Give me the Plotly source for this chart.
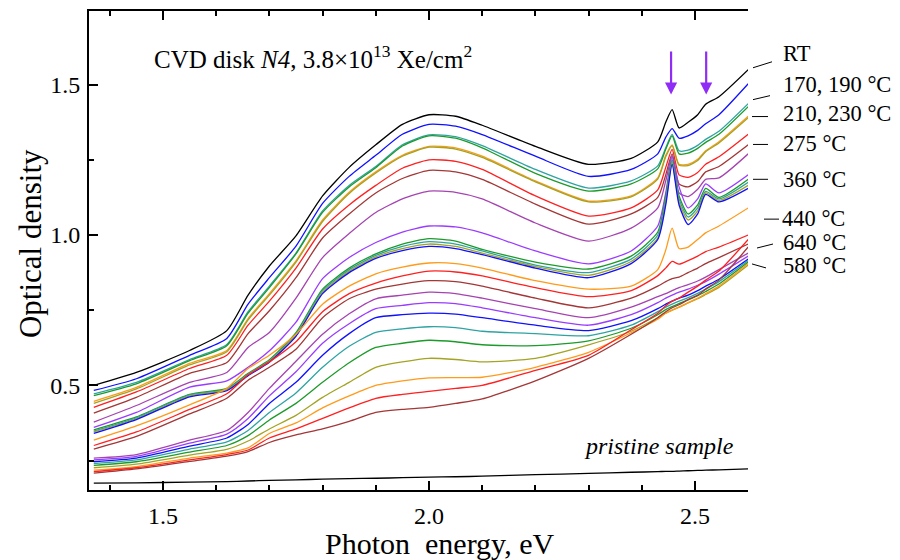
import plotly.graph_objects as go

# shared photon-energy grid (eV)
X_EV = [1.37, 1.45, 1.55, 1.62, 1.66, 1.70, 1.75, 1.80, 1.85, 1.90, 1.95, 2.00, 2.05, 2.10, 2.20, 2.30,
        2.38, 2.43, 2.445, 2.457, 2.47, 2.487, 2.505, 2.52, 2.545, 2.60]

# optical density curves (top to bottom at 2.0 eV)
C01_black = [0.500, 0.543, 0.616, 0.682, 0.800, 0.897, 0.997, 1.130, 1.225, 1.300, 1.368, 1.400, 1.395, 1.365, 1.295, 1.235, 1.255, 1.310, 1.375, 1.417, 1.356, 1.375, 1.400, 1.435, 1.460, 1.550]
C02_blue = [0.483, 0.522, 0.600, 0.656, 0.770, 0.858, 0.963, 1.105, 1.195, 1.265, 1.335, 1.368, 1.362, 1.334, 1.262, 1.195, 1.218, 1.270, 1.325, 1.354, 1.322, 1.330, 1.348, 1.370, 1.400, 1.503]
C03_teal = [0.472, 0.510, 0.586, 0.636, 0.745, 0.830, 0.940, 1.080, 1.165, 1.228, 1.300, 1.333, 1.327, 1.297, 1.218, 1.156, 1.180, 1.230, 1.290, 1.335, 1.280, 1.282, 1.298, 1.318, 1.345, 1.437]
C04_green = [0.466, 0.505, 0.582, 0.632, 0.740, 0.825, 0.937, 1.075, 1.160, 1.224, 1.296, 1.330, 1.322, 1.290, 1.205, 1.146, 1.170, 1.220, 1.285, 1.330, 1.270, 1.272, 1.288, 1.308, 1.335, 1.427]
C05_orange = [0.447, 0.493, 0.573, 0.616, 0.722, 0.805, 0.914, 1.050, 1.142, 1.210, 1.265, 1.295, 1.290, 1.262, 1.180, 1.113, 1.130, 1.190, 1.265, 1.300, 1.235, 1.235, 1.252, 1.280, 1.310, 1.395]
C06_olive = [0.440, 0.488, 0.568, 0.612, 0.718, 0.800, 0.910, 1.045, 1.138, 1.206, 1.262, 1.292, 1.286, 1.258, 1.177, 1.110, 1.127, 1.186, 1.260, 1.297, 1.232, 1.231, 1.248, 1.277, 1.306, 1.390]
C07_red = [0.427, 0.478, 0.556, 0.600, 0.700, 0.780, 0.890, 1.020, 1.100, 1.165, 1.222, 1.250, 1.245, 1.218, 1.130, 1.063, 1.090, 1.150, 1.225, 1.285, 1.200, 1.192, 1.208, 1.235, 1.260, 1.335]
C08_brown = [0.408, 0.460, 0.540, 0.576, 0.672, 0.748, 0.858, 0.990, 1.070, 1.140, 1.188, 1.215, 1.210, 1.185, 1.103, 1.036, 1.070, 1.125, 1.200, 1.270, 1.170, 1.160, 1.178, 1.210, 1.228, 1.300]
C09_purple = [0.378, 0.433, 0.510, 0.543, 0.626, 0.676, 0.790, 0.925, 1.005, 1.075, 1.120, 1.146, 1.142, 1.120, 1.040, 0.980, 1.023, 1.090, 1.180, 1.265, 1.140, 1.128, 1.152, 1.185, 1.190, 1.270]
C10_violet = [0.360, 0.410, 0.494, 0.515, 0.560, 0.615, 0.710, 0.855, 0.925, 0.975, 1.010, 1.030, 1.027, 1.007, 0.947, 0.904, 0.947, 1.030, 1.140, 1.260, 1.160, 1.090, 1.120, 1.170, 1.140, 1.200]
C11_green = [0.352, 0.395, 0.470, 0.490, 0.540, 0.585, 0.675, 0.820, 0.890, 0.937, 0.970, 0.988, 0.980, 0.952, 0.910, 0.887, 0.930, 1.010, 1.130, 1.250, 1.130, 1.070, 1.100, 1.155, 1.125, 1.185]
C12_teal = [0.348, 0.392, 0.468, 0.487, 0.537, 0.582, 0.670, 0.815, 0.885, 0.932, 0.962, 0.978, 0.970, 0.947, 0.900, 0.875, 0.920, 1.000, 1.120, 1.245, 1.120, 1.060, 1.090, 1.145, 1.120, 1.175]
C13_olive = [0.345, 0.389, 0.465, 0.485, 0.535, 0.580, 0.667, 0.810, 0.880, 0.927, 0.955, 0.970, 0.962, 0.940, 0.895, 0.866, 0.912, 0.990, 1.110, 1.240, 1.110, 1.050, 1.080, 1.140, 1.115, 1.165]
C14_blue = [0.340, 0.386, 0.462, 0.482, 0.532, 0.577, 0.663, 0.805, 0.875, 0.922, 0.948, 0.962, 0.955, 0.935, 0.890, 0.858, 0.905, 0.985, 1.100, 1.235, 1.100, 1.035, 1.070, 1.135, 1.110, 1.155]
C15_orange = [0.318, 0.365, 0.435, 0.490, 0.556, 0.600, 0.670, 0.770, 0.830, 0.871, 0.893, 0.907, 0.905, 0.890, 0.848, 0.820, 0.830, 0.885, 0.950, 1.023, 0.955, 0.960, 0.985, 1.007, 1.030, 1.090]
C16_red = [0.300, 0.345, 0.420, 0.472, 0.535, 0.578, 0.645, 0.745, 0.805, 0.840, 0.864, 0.880, 0.877, 0.864, 0.825, 0.795, 0.815, 0.865, 0.890, 0.912, 0.903, 0.915, 0.930, 0.945, 0.960, 1.000]
C17_brown = [0.288, 0.330, 0.405, 0.457, 0.517, 0.560, 0.620, 0.725, 0.788, 0.820, 0.837, 0.848, 0.845, 0.830, 0.790, 0.758, 0.790, 0.830, 0.845, 0.855, 0.860, 0.875, 0.890, 0.905, 0.925, 0.970]
C18_purple = [0.258, 0.270, 0.318, 0.350, 0.410, 0.490, 0.580, 0.670, 0.738, 0.788, 0.800, 0.810, 0.805, 0.790, 0.755, 0.725, 0.760, 0.795, 0.805, 0.815, 0.825, 0.835, 0.847, 0.860, 0.885, 0.940]
C19_violet = [0.252, 0.264, 0.308, 0.338, 0.390, 0.465, 0.545, 0.640, 0.705, 0.755, 0.766, 0.775, 0.772, 0.758, 0.725, 0.700, 0.735, 0.775, 0.790, 0.800, 0.810, 0.820, 0.833, 0.845, 0.870, 0.930]
C20_blue = [0.246, 0.258, 0.298, 0.325, 0.370, 0.440, 0.510, 0.600, 0.672, 0.725, 0.735, 0.740, 0.737, 0.725, 0.700, 0.682, 0.715, 0.755, 0.770, 0.780, 0.790, 0.800, 0.815, 0.830, 0.853, 0.920]
C21_teal = [0.240, 0.252, 0.288, 0.312, 0.350, 0.410, 0.475, 0.560, 0.630, 0.676, 0.688, 0.695, 0.692, 0.680, 0.672, 0.665, 0.700, 0.745, 0.760, 0.770, 0.780, 0.792, 0.806, 0.820, 0.845, 0.915]
C22_green = [0.234, 0.246, 0.278, 0.300, 0.333, 0.385, 0.440, 0.510, 0.575, 0.626, 0.640, 0.650, 0.645, 0.635, 0.632, 0.648, 0.690, 0.735, 0.752, 0.762, 0.772, 0.784, 0.798, 0.812, 0.837, 0.910]
C23_olive = [0.226, 0.238, 0.268, 0.287, 0.315, 0.355, 0.400, 0.460, 0.510, 0.560, 0.578, 0.590, 0.586, 0.578, 0.590, 0.635, 0.680, 0.725, 0.740, 0.750, 0.760, 0.774, 0.788, 0.802, 0.826, 0.900]
C24_orange = [0.218, 0.230, 0.258, 0.275, 0.292, 0.340, 0.375, 0.425, 0.465, 0.500, 0.515, 0.525, 0.526, 0.527, 0.560, 0.610, 0.675, 0.720, 0.740, 0.750, 0.760, 0.775, 0.790, 0.805, 0.830, 0.905]
C25_red = [0.213, 0.226, 0.252, 0.270, 0.285, 0.325, 0.355, 0.390, 0.425, 0.457, 0.470, 0.480, 0.490, 0.500, 0.550, 0.600, 0.685, 0.740, 0.765, 0.780, 0.790, 0.810, 0.830, 0.850, 0.880, 0.985]
C26_brown = [0.208, 0.222, 0.247, 0.265, 0.280, 0.310, 0.335, 0.355, 0.380, 0.410, 0.420, 0.427, 0.440, 0.455, 0.515, 0.590, 0.670, 0.725, 0.745, 0.758, 0.768, 0.785, 0.800, 0.820, 0.850, 0.960]
PRISTINE = [0.175, 0.176, 0.178, 0.180, 0.182, 0.184, 0.186, 0.188, 0.190, 0.191, 0.193, 0.195, 0.196, 0.198, 0.203, 0.207, 0.211, 0.213, 0.214, 0.214, 0.215, 0.216, 0.217, 0.218, 0.219, 0.222]

COL = {
    "black": "#000000", "blue": "#1010ff", "teal": "#2fa3a3", "green": "#1c9a2a",
    "orange": "#ff9a1a", "olive": "#a3a324", "red": "#ff2020", "brown": "#a33636",
    "purple": "#a543b0", "violet": "#9a3cff",
}

SERIES = [
    (C01_black, "black"), (C02_blue, "blue"), (C03_teal, "teal"), (C04_green, "green"),
    (C05_orange, "orange"), (C06_olive, "olive"), (C07_red, "red"), (C08_brown, "brown"),
    (C09_purple, "purple"), (C10_violet, "violet"), (C11_green, "green"), (C12_teal, "teal"),
    (C13_olive, "olive"), (C14_blue, "blue"), (C15_orange, "orange"), (C16_red, "red"),
    (C17_brown, "brown"), (C18_purple, "purple"), (C19_violet, "violet"), (C20_blue, "blue"),
    (C21_teal, "teal"), (C22_green, "green"), (C23_olive, "olive"), (C24_orange, "orange"),
    (C25_red, "red"), (C26_brown, "brown"), (PRISTINE, "black"),
]

LABELS = ["RT", "170, 190 °C", "210, 230 °C", "275 °C", "360 °C", "440 °C", "640 °C", "580 °C"]
ARROW_X = [2.455, 2.521]

FONT = "Liberation Serif"

fig = go.Figure()
for vals, cname in SERIES:
    fig.add_trace(go.Scatter(x=X_EV, y=vals, mode="lines",
                             line=dict(color=COL[cname], width=1.3, shape="spline", smoothing=0.6),
                             showlegend=False, hoverinfo="skip"))

# plot area in pixels
L, R, T, B = 89, 748, 9, 490
W, H = 900, 560


def pp(px, py):
    return (px - L) / (R - L), (B - py) / (B - T)


annotations = []
lab_pos = [(782, 52), (782, 83), (782, 112), (782, 142), (782, 178), (781, 217), (782, 241), (782, 265)]
leaders = [((753, 66), (772, 60)), ((753, 98), (770, 94)), ((752, 115), (768, 115)),
           ((753, 143), (768, 143)), ((753, 178), (768, 178)), ((764, 218), (779, 218)),
           ((757, 247), (773, 243)), ((752, 263), (766, 267))]
for txt, (px, py) in zip(LABELS, lab_pos):
    x, y = pp(px, py)
    annotations.append(dict(x=x, y=y, xref="paper", yref="paper", text=txt, showarrow=False,
                            xanchor="left", yanchor="middle", borderpad=0,
                            font=dict(family=FONT, size=22.5, color="black")))
shapes = []
for (a, b) in leaders:
    x0, y0 = pp(*a)
    x1, y1 = pp(*b)
    shapes.append(dict(type="line", xref="paper", yref="paper", x0=x0, y0=y0, x1=x1, y1=y1,
                       line=dict(color="black", width=1)))

x, y = pp(152, 55)
annotations.append(dict(x=x, y=y, xref="paper", yref="paper",
                        text="CVD disk <i>N4</i>, 3.8×10<sup>13</sup> Xe/cm<sup>2</sup>",
                        showarrow=False, xanchor="left", yanchor="middle",
                        font=dict(family=FONT, size=25, color="black")))
x, y = pp(582, 446)
annotations.append(dict(x=x, y=y, xref="paper", yref="paper", text="<i>pristine sample</i>",
                        showarrow=False, xanchor="left", yanchor="middle",
                        font=dict(family=FONT, size=24, color="black")))
for ax_ in ARROW_X:
    annotations.append(dict(x=ax_, y=1.467, ax=ax_, ay=1.615, xref="x", yref="y", axref="x", ayref="y",
                            text="", showarrow=True, arrowhead=2, arrowsize=1.1, arrowwidth=2.2,
                            arrowcolor="#8f2cf5"))
x, y = pp(439, 544)
annotations.append(dict(x=x, y=y, xref="paper", yref="paper", text="Photon\u00a0 energy, eV",
                        showarrow=False, xanchor="center", yanchor="middle",
                        font=dict(family=FONT, size=30, color="black")))
x, y = pp(30, 243)
annotations.append(dict(x=x, y=y, xref="paper", yref="paper", text="Optical density",
                        showarrow=False, xanchor="center", yanchor="middle", textangle=-90,
                        font=dict(family=FONT, size=31, color="black")))

fig.update_layout(
    width=W, height=H,
    margin=dict(l=L, r=W - R, t=T, b=H - B),
    paper_bgcolor="white", plot_bgcolor="white",
    annotations=annotations, shapes=shapes,
    xaxis=dict(range=[1.361, 2.5996], showgrid=False, zeroline=False,
               showline=True, linecolor="black", linewidth=2, mirror="ticks",
               ticks="inside", ticklen=9, tickwidth=2, tickcolor="black",
               tick0=1.5, dtick=0.5, tickformat=".1f",
               minor=dict(dtick=0.1, ticks="inside", ticklen=5, tickwidth=1.5, tickcolor="black"),
               tickfont=dict(family=FONT, size=24, color="black"), ticklabelstandoff=3),
    yaxis=dict(range=[0.152, 1.745], showgrid=False, zeroline=False,
               showline=True, linecolor="black", linewidth=2,
               ticks="inside", ticklen=9, tickwidth=2, tickcolor="black",
               tick0=0.5, dtick=0.5, tickformat=".1f",
               minor=dict(dtick=0.25, ticks="inside", ticklen=5, tickwidth=1.5, tickcolor="black"),
               tickfont=dict(family=FONT, size=24, color="black"), ticklabelstandoff=2),
)

fig.write_html("out.html", config={"displayModeBar": False},
               post_script="document.body.style.margin='0px';document.body.style.padding='0px';")
